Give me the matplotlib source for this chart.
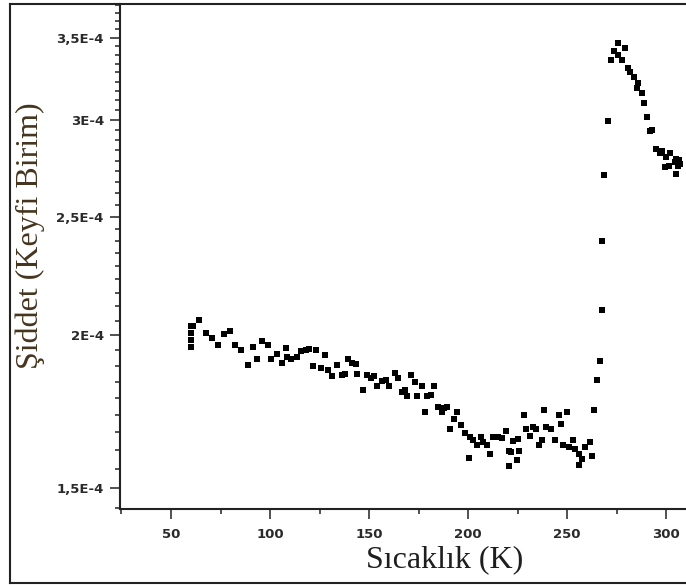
import matplotlib
matplotlib.use("Agg")
import matplotlib.pyplot as plt
import numpy as np
from matplotlib.ticker import FixedLocator, FixedFormatter, MultipleLocator, NullFormatter
from matplotlib.lines import Line2D

# Data (temperature in K, intensity in arbitrary units x1e-4)
temperature = [60.0, 60.0, 60.0, 60.0, 61.0, 64.3, 67.7, 70.6, 73.7, 76.8, 79.8, 82.5, 85.5, 88.7,
               91.3, 93.6, 96.0, 99.0, 100.7, 103.5, 106.1, 108.2, 108.4, 110.8, 113.5, 115.5, 118.2,
               119.8, 121.6, 123.2, 125.6, 127.8, 129.4, 131.5, 133.7, 136.2, 137.9, 139.2, 141.3,
               143.4, 144.1, 146.8, 148.8, 150.9, 152.5, 154.2, 156.4, 158.4, 160.3, 163.1, 164.5,
               166.5, 168.2, 169.3, 171.2, 173.2, 174.4, 176.6, 178.1, 179.4, 181.2, 183.0, 184.7,
               186.7, 187.9, 189.2, 190.9, 192.9, 194.3, 196.3, 198.5, 200.5, 200.7, 202.7, 204.7,
               206.4, 207.4, 209.4, 211.1, 212.8, 215.3, 217.0, 219.0, 220.4, 220.4, 221.6, 222.6,
               224.9, 225.4, 225.9, 228.0, 229.3, 231.0, 232.7, 234.3, 236.0, 237.2, 238.4, 239.4,
               241.8, 243.9, 245.8, 247.0, 248.1, 249.8, 250.7, 252.9, 254.0, 256.2, 256.2, 257.4,
               259.1, 261.3, 262.5, 263.6, 265.0, 266.7, 267.8, 267.8, 268.8, 270.6, 272.2, 273.9,
               275.6, 275.9, 277.6, 279.3, 280.7, 281.8, 283.5, 285.2, 286.0, 288.0, 289.0, 290.4,
               291.9, 292.8, 294.8, 297.0, 297.8, 299.5, 299.8, 301.2, 302.0, 304.2, 304.9, 305.1,
               306.2, 306.6, 307.1]
intensity = [2.034, 2.008, 1.981, 1.955, 2.036, 2.060, 2.009, 1.991, 1.963, 2.003, 2.016, 1.963, 1.944,
             1.893, 1.958, 1.911, 1.980, 1.963, 1.911, 1.932, 1.898, 1.951, 1.920, 1.911, 1.920, 1.941,
             1.947, 1.948, 1.887, 1.944, 1.879, 1.926, 1.875, 1.852, 1.893, 1.855, 1.861, 1.912, 1.900,
             1.896, 1.861, 1.803, 1.857, 1.847, 1.852, 1.817, 1.835, 1.837, 1.817, 1.864, 1.844, 1.798,
             1.806, 1.783, 1.855, 1.832, 1.783, 1.817, 1.731, 1.783, 1.789, 1.817, 1.748, 1.731, 1.744,
             1.748, 1.678, 1.710, 1.731, 1.689, 1.663, 1.588, 1.653, 1.642, 1.626, 1.653, 1.636, 1.628,
             1.601, 1.653, 1.653, 1.649, 1.672, 1.608, 1.563, 1.606, 1.639, 1.581, 1.647, 1.608, 1.720,
             1.678, 1.655, 1.683, 1.678, 1.628, 1.644, 1.737, 1.683, 1.678, 1.644, 1.720, 1.694, 1.626,
             1.731, 1.621, 1.642, 1.616, 1.601, 1.566, 1.586, 1.621, 1.636, 1.594, 1.737, 1.840, 1.906,
             2.096, 2.388, 2.705, 2.994, 3.357, 3.411, 3.390, 3.463, 3.357, 3.433, 3.304, 3.279, 3.253,
             3.184, 3.212, 3.152, 3.093, 3.017, 2.935, 2.942, 2.839, 2.816, 2.826, 2.746, 2.798, 2.751,
             2.816, 2.768, 2.786, 2.709, 2.751, 2.781, 2.760]

y_major = [1.5e-4, 2e-4, 2.5e-4, 3e-4, 3.5e-4]
y_labels = ["1,5E-4", "2E-4", "2,5E-4", "3E-4", "3,5E-4"]
x_major = [50, 100, 150, 200, 250, 300]
x_labels = ["50", "100", "150", "200", "250", "300"]

W, H = 686, 585
fig = plt.figure(figsize=(W / 100, H / 100), dpi=100)
fig.patch.set_facecolor("white")

ax_l, ax_r, ax_t, ax_b = 120.5, 686, 4, 509
ax = fig.add_axes([ax_l / W, 1 - ax_b / H, (ax_r - ax_l) / W, (ax_b - ax_t) / H])

ax.plot(temperature, np.array(intensity) * 1e-4, linestyle="none", marker="s",
        markersize=4.6, color="black", markeredgewidth=0)

ax.set_yscale("log")
ax.set_xlim(24.5, 310)
ylo, yhi = 1.4427e-4, 3.728e-4
ax.set_ylim(ylo, yhi)

ax.xaxis.set_major_locator(FixedLocator(x_major))
ax.xaxis.set_major_formatter(FixedFormatter(x_labels))
ax.xaxis.set_minor_locator(MultipleLocator(25))

ax.yaxis.set_major_locator(FixedLocator(y_major))
ax.yaxis.set_major_formatter(FixedFormatter(y_labels))
step = 0.5e-4 / 9
minor = [m + k * step for m in [1.0e-4] + y_major for k in range(1, 9)]
minor = [v for v in minor if ylo <= v <= yhi and all(abs(v - M) > 1e-9 for M in y_major)]
ax.yaxis.set_minor_locator(FixedLocator(minor))
ax.yaxis.set_minor_formatter(NullFormatter())

for s in ["top", "right"]:
    ax.spines[s].set_visible(False)
for s in ["left", "bottom"]:
    ax.spines[s].set_linewidth(1.5)
    ax.spines[s].set_color("#222222")

ax.tick_params(axis="both", which="major", direction="out", length=7, width=1.1,
               color="#222222", labelsize=9.5, labelcolor="#2a2a2a")
ax.tick_params(axis="both", which="minor", direction="out", length=3.8, width=1.1, color="#222222")
ax.tick_params(axis="y", which="major", pad=5)
ax.tick_params(axis="x", which="major", pad=7)
for lab in ax.get_xticklabels() + ax.get_yticklabels():
    lab.set_fontweight("bold")
    lab.set_family("DejaVu Sans")

fig.text(445 / W, 1 - 560 / H, "Sıcaklık (K)", family="Liberation Serif", fontsize=23,
         color="#1e1e1e", ha="center", va="center")
fig.text(30 / W, 1 - 236 / H, "Şiddet (Keyfi Birim)", family="Liberation Serif", fontsize=23,
         color="#45351f", ha="center", va="center", rotation=90)

# outer frame
lw = 1.5
fig.add_artist(Line2D([10 / W, 10 / W], [1 - 4 / H, 1 - 583 / H], transform=fig.transFigure,
                      color="#222222", linewidth=lw))
fig.add_artist(Line2D([10 / W, 1.0], [1 - 4 / H, 1 - 4 / H], transform=fig.transFigure,
                      color="#222222", linewidth=lw))
fig.add_artist(Line2D([10 / W, 1.0], [1 - 583 / H, 1 - 583 / H], transform=fig.transFigure,
                      color="#222222", linewidth=lw))

fig.savefig("out.png", dpi=100, facecolor="white")
